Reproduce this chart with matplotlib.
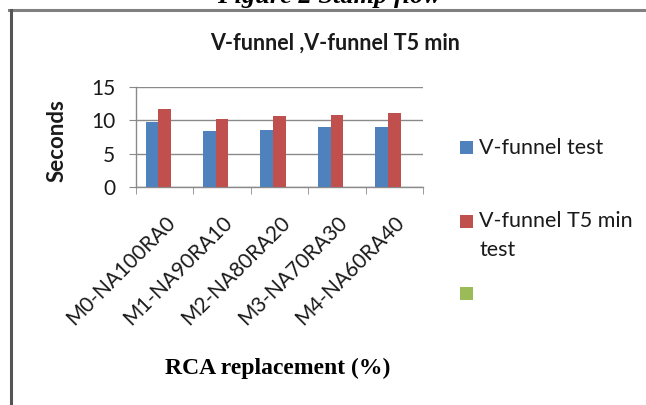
import numpy as np
import matplotlib
matplotlib.use("Agg")
import matplotlib.pyplot as plt
from matplotlib.patches import Rectangle
from matplotlib.lines import Line2D

# ---- data ----
categories = ["M0-NA100RA0", "M1-NA90RA10", "M2-NA80RA20", "M3-NA70RA30", "M4-NA60RA40"]
vfunnel = [9.75, 8.35, 8.55, 9.05, 9.05]
vfunnel_t5 = [11.65, 10.25, 10.6, 10.8, 11.15]
empty_series = [np.nan, np.nan, np.nan, np.nan, np.nan]
series_names = ["V-funnel test", "V-funnel T5 min\ntest", ""]
series_colors = ["#4F81BD", "#C0504D", "#9BBB59"]
yticks = [0, 5, 10, 15]
title = "V-funnel ,V-funnel T5 min"
ylabel = "Seconds"
xlabel = "RCA replacement (%)"
caption = "Figure 2 Stamp flow"

W, H = 646, 405
fig = plt.figure(figsize=(W / 100, H / 100), dpi=100)
fig.patch.set_facecolor("white")

def fx(px):
    return px / W

def fy(py):
    return 1 - py / H

sans = ["Lato", "DejaVu Sans"]
serif = ["Liberation Serif", "DejaVu Serif"]
txtc = "#1a1a1a"

ax = fig.add_axes([fx(136), fy(187.3), fx(423) - fx(136), fy(86.7) - fy(187.3)])
x = np.arange(len(categories))
bw = 0.222
all_series = [vfunnel, vfunnel_t5, empty_series]
for i, (vals, col) in enumerate(zip(all_series, series_colors)):
    ax.bar(x + (i - 1) * bw, vals, width=bw, color=col, edgecolor="none", zorder=3)

ax.set_xlim(-0.5, len(categories) - 0.5)
ax.set_ylim(0, 15)
ax.set_yticks(yticks)
ax.set_yticklabels([str(v) for v in yticks], fontfamily=sans, fontsize=15, color=txtc)
ax.yaxis.grid(True, color="#8a8a8a", lw=1, zorder=0)
ax.set_axisbelow(True)
for s in ["top", "right"]:
    ax.spines[s].set_visible(False)
for s in ["left", "bottom"]:
    ax.spines[s].set_color("#8a8a8a")
    ax.spines[s].set_linewidth(1)
ax.tick_params(axis="y", length=5, color="#8a8a8a", pad=10)
ax.set_xticks(x)
ax.set_xticklabels(categories, rotation=45, ha="right", rotation_mode="anchor",
                   fontfamily=sans, fontsize=15, color=txtc)
ax.tick_params(axis="x", which="major", length=0, pad=18)
ax.set_xticks(np.arange(len(categories) + 1) - 0.5, minor=True)
ax.tick_params(axis="x", which="minor", length=5, color="#8a8a8a")

# title and axis labels
fig.text(fx(335), fy(50), title, ha="center", va="baseline", fontfamily=sans,
         fontsize=15.5, fontweight="bold", color=txtc)
fig.text(fx(57.5), fy(141), ylabel, ha="center", va="center", rotation=90,
         fontfamily=sans, fontsize=16, fontweight="bold", color=txtc)
fig.text(fx(278), fy(374), xlabel, ha="center", va="baseline", fontfamily=serif,
         fontsize=17, fontweight="bold", color="black")

# legend (manual, Excel-like)
leg_y = [147.5, 221, 293.5]
for name, col, yc in zip(series_names, series_colors, leg_y):
    fig.patches.append(Rectangle((fx(460), fy(yc + 6.5)), fx(473) - fx(460), fy(yc - 6.5) - fy(yc + 6.5),
                                 transform=fig.transFigure, facecolor=col, edgecolor="none"))
    for k, line in enumerate(name.split("\n")):
        if line:
            fig.text(fx(479), fy(yc + 6 + 29.5 * k), line, ha="left", va="baseline",
                     fontfamily=sans, fontsize=15.5, color=txtc)

# page border lines and clipped caption (the reference shows it cut at the top)
fig.add_artist(Line2D([fx(9), 1], [fy(9.5), fy(9.5)], transform=fig.transFigure,
                      color="#808080", lw=2.2))
fig.add_artist(Line2D([fx(11), fx(11)], [fy(9.5), 0], transform=fig.transFigure,
                      color="#555555", lw=2.2))
fig.text(fx(329), fy(3), caption, ha="center", va="baseline", fontfamily=serif,
         fontsize=19, fontweight="bold", fontstyle="italic", color="black")

fig.savefig("out.png", dpi=100)
